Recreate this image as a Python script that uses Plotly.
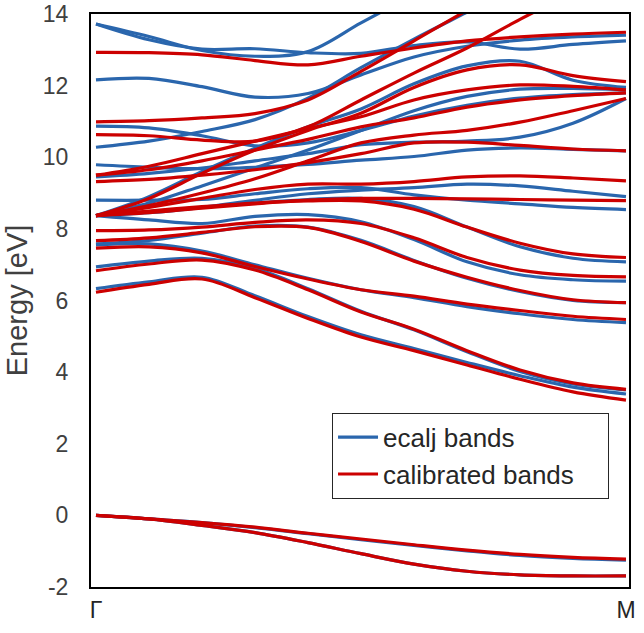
import plotly.graph_objects as go

# k-path sample positions (fraction of the Gamma -> M path)
K_POINTS = [0.0, 0.1, 0.2, 0.3, 0.4, 0.5, 0.6, 0.7, 0.8, 0.9, 1.0]
K_TICK_POS = [0.0, 1.0]
K_TICK_TEXT = ["Γ", "M"]
Y_TICKS = [-2, 0, 2, 4, 6, 8, 10, 12, 14]
Y_TICK_TEXT = ["-2", "0", "2", "4", "6", "8", "10", "12", "14"]
SERIES_NAMES = ["ecalj bands", "calibrated bands"]

# ecalj bands (eV), sampled at K_POINTS
ecalj_v1 = [0.00, -0.10, -0.20, -0.34, -0.51, -0.68, -0.84, -0.99, -1.12, -1.20, -1.25]
ecalj_v2 = [0.00, -0.10, -0.28, -0.48, -0.76, -1.07, -1.36, -1.56, -1.66, -1.69, -1.69]
ecalj_c01 = [6.33, 6.52, 6.65, 6.13, 5.55, 5.04, 4.66, 4.27, 3.90, 3.58, 3.39]
ecalj_c02 = [6.94, 7.10, 7.18, 6.90, 6.33, 5.70, 5.18, 4.57, 4.02, 3.67, 3.50]
ecalj_c03 = [7.55, 7.58, 7.38, 7.00, 6.62, 6.30, 6.08, 5.83, 5.63, 5.47, 5.38]
ecalj_c04 = [7.58, 7.68, 7.88, 8.08, 8.05, 7.68, 7.12, 6.62, 6.25, 6.00, 5.94]
ecalj_c05 = [8.37, 8.25, 8.15, 8.35, 8.40, 8.20, 7.70, 7.08, 6.72, 6.58, 6.54]
ecalj_c06 = [8.37, 8.48, 8.60, 8.72, 8.82, 8.85, 8.62, 8.05, 7.50, 7.18, 7.08]
ecalj_c07 = [8.80, 8.80, 8.82, 8.98, 9.12, 9.15, 8.95, 8.80, 8.70, 8.60, 8.54]
ecalj_c08 = [8.37, 8.45, 8.60, 8.80, 8.98, 9.08, 9.15, 9.25, 9.20, 9.05, 8.90]
ecalj_c09 = [9.79, 9.72, 9.68, 9.72, 9.80, 9.92, 10.02, 10.20, 10.26, 10.22, 10.18]
ecalj_c10 = [9.45, 9.55, 9.70, 9.90, 10.10, 10.35, 10.42, 10.45, 10.56, 10.95, 11.64]
ecalj_c11 = [8.37, 8.72, 9.20, 9.70, 10.20, 10.75, 11.30, 11.70, 11.90, 11.92, 11.88]
ecalj_c12 = [8.37, 8.90, 9.60, 10.25, 10.85, 11.35, 12.05, 12.55, 12.68, 12.15, 11.95]
ecalj_c13 = [10.87, 10.82, 10.60, 10.32, 10.40, 10.75, 11.15, 11.45, 11.65, 11.75, 11.80]
ecalj_c14 = [10.28, 10.45, 10.72, 11.05, 11.65, 12.50, 13.30, 14.05, 14.80, None, None]
ecalj_c15 = [12.16, 12.20, 11.97, 11.68, 11.78, 12.30, 12.80, 13.10, 13.27, 13.36, 13.41]
ecalj_c16 = [13.72, 13.28, 13.02, 13.03, 12.92, 12.90, 13.12, 13.22, 13.02, 13.15, 13.25]
ecalj_c17 = [13.72, 13.37, 12.98, 12.82, 12.95, 13.75, 14.55, None, None, None, None]

# calibrated bands (eV), sampled at K_POINTS
calib_v1 = [0.00, -0.10, -0.20, -0.33, -0.50, -0.66, -0.82, -0.97, -1.09, -1.17, -1.22]
calib_v2 = [0.00, -0.10, -0.28, -0.48, -0.76, -1.07, -1.36, -1.56, -1.66, -1.69, -1.69]
calib_c01 = [6.23, 6.45, 6.60, 6.08, 5.50, 4.98, 4.60, 4.20, 3.80, 3.45, 3.22]
calib_c02 = [6.83, 7.02, 7.13, 6.85, 6.30, 5.68, 5.20, 4.60, 4.06, 3.70, 3.52]
calib_c03 = [7.46, 7.50, 7.33, 6.95, 6.60, 6.30, 6.12, 5.90, 5.72, 5.56, 5.47]
calib_c04 = [7.67, 7.75, 7.90, 8.06, 8.04, 7.65, 7.10, 6.65, 6.28, 6.02, 5.94]
calib_c05 = [7.95, 7.97, 8.05, 8.18, 8.25, 8.15, 7.75, 7.20, 6.85, 6.70, 6.66]
calib_c06 = [8.37, 8.50, 8.62, 8.72, 8.78, 8.78, 8.55, 8.05, 7.60, 7.30, 7.20]
calib_c07 = [8.37, 8.45, 8.58, 8.70, 8.80, 8.85, 8.85, 8.84, 8.82, 8.80, 8.79]
calib_c08 = [8.37, 8.60, 8.85, 9.10, 9.25, 9.25, 9.32, 9.45, 9.48, 9.42, 9.34]
calib_c09 = [9.32, 9.38, 9.50, 9.65, 9.85, 10.10, 10.40, 10.42, 10.33, 10.23, 10.18]
calib_c10 = [8.37, 8.65, 9.00, 9.40, 9.90, 10.40, 10.62, 10.75, 10.98, 11.30, 11.64]
calib_c11 = [9.50, 9.65, 9.90, 10.20, 10.50, 10.85, 11.10, 11.40, 11.60, 11.72, 11.80]
calib_c12 = [9.50, 9.75, 10.10, 10.45, 10.80, 11.13, 11.60, 11.88, 12.02, 11.98, 11.88]
calib_c13 = [8.37, 8.85, 9.55, 10.20, 10.75, 11.23, 11.95, 12.44, 12.58, 12.28, 12.11]
calib_c14 = [10.63, 10.60, 10.48, 10.45, 10.85, 11.60, 12.35, 13.05, 13.85, 14.60, None]
calib_c15 = [10.99, 11.02, 11.10, 11.22, 11.60, 12.40, 13.25, 14.10, 14.90, None, None]
calib_c16 = [12.93, 12.92, 12.86, 12.70, 12.58, 12.82, 13.05, 13.25, 13.36, 13.44, 13.49]

ecalj_bands = [ecalj_v1, ecalj_v2, ecalj_c01, ecalj_c02, ecalj_c03, ecalj_c04, ecalj_c05,
               ecalj_c06, ecalj_c07, ecalj_c08, ecalj_c09, ecalj_c10, ecalj_c11, ecalj_c12,
               ecalj_c13, ecalj_c14, ecalj_c15, ecalj_c16, ecalj_c17]
calib_bands = [calib_v1, calib_v2, calib_c01, calib_c02, calib_c03, calib_c04, calib_c05,
               calib_c06, calib_c07, calib_c08, calib_c09, calib_c10, calib_c11, calib_c12,
               calib_c13, calib_c14, calib_c15, calib_c16]

BLUE = "#2a66ad"
RED = "#cc0000"
PAD = "\u00a0" * 4  # widens the legend box to match the reference

fig = go.Figure()
for bands, color, name, group in ((ecalj_bands, BLUE, SERIES_NAMES[0], "ecalj"),
                                  (calib_bands, RED, SERIES_NAMES[1], "calib")):
    for i, band in enumerate(bands):
        fig.add_trace(go.Scatter(
            x=K_POINTS, y=band, mode="lines",
            line=dict(color=color, width=3.2, shape="spline", smoothing=1.0),
            name=name + PAD, legendgroup=group, showlegend=(i == 0),
            connectgaps=False, hoverinfo="skip"))

FONT = "Arial, Liberation Sans, sans-serif"
fig.update_layout(
    width=644, height=633,
    margin=dict(l=91, r=15, t=14, b=46),
    plot_bgcolor="white", paper_bgcolor="white",
    font=dict(family=FONT, color="#404040", size=20),
    showlegend=True,
    xaxis=dict(
        range=[-0.0094, 1.0057], tickvals=K_TICK_POS, ticktext=K_TICK_TEXT,
        showgrid=False, zeroline=False, showline=True, linecolor="black",
        linewidth=2, mirror=True, ticks="", ticklabelstandoff=1, automargin=False,
        tickfont=dict(size=23, color="#262626", family=FONT)),
    yaxis=dict(
        range=[-2, 14], tickvals=Y_TICKS, ticktext=Y_TICK_TEXT, showgrid=False,
        zeroline=False, showline=True, linecolor="black", linewidth=2, mirror=True,
        ticks="", ticklabelstandoff=16, automargin=False,
        tickfont=dict(size=23, color="#404040", family=FONT),
        title=dict(text="Energy [eV]", font=dict(size=29, color="#404040", family=FONT),
                   standoff=7)),
    legend=dict(
        x=0.448, y=0.304, xanchor="left", yanchor="top",
        bordercolor="#262626", borderwidth=1, bgcolor="white",
        font=dict(size=26, color="#262626", family=FONT),
        traceorder="grouped", tracegroupgap=0, itemwidth=40),
)

fig.write_html("out.html", config={"displayModeBar": False},
               post_script="document.body.style.margin='0';")
